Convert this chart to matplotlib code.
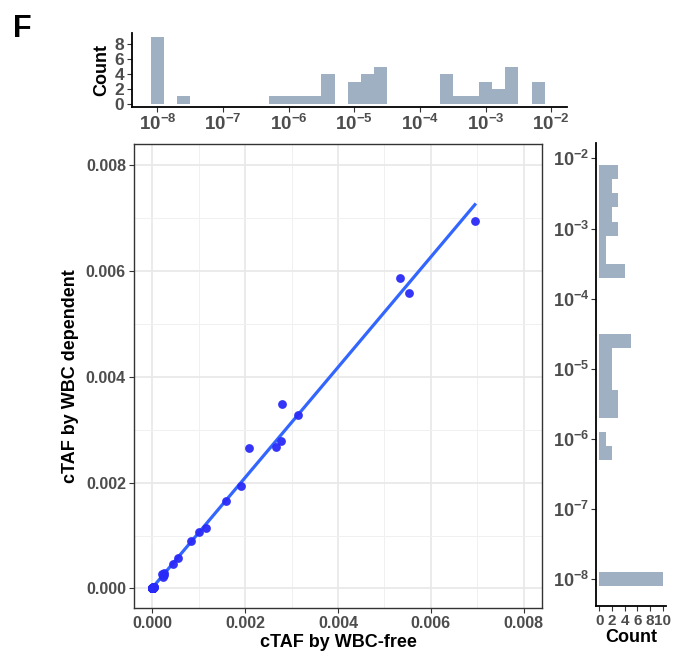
import numpy as np
import matplotlib
matplotlib.use("Agg")
import matplotlib.pyplot as plt

plt.rcParams['font.family'] = ['Liberation Sans', 'DejaVu Sans']
plt.rcParams['mathtext.fontset'] = 'custom'
plt.rcParams['mathtext.rm'] = 'Liberation Sans'
plt.rcParams['mathtext.bf'] = 'Liberation Sans:bold'
plt.rcParams['mathtext.it'] = 'Liberation Sans:italic'

# cTAF values (x: WBC-free, y: WBC dependent)
wbc_free = [
    0.00695, 0.00534, 0.00552, 0.00279, 0.00314, 0.00209, 0.00277, 0.00267,
    0.00191, 0.00159, 0.00116, 0.00101, 0.00083, 0.00055, 0.00045, 0.00026,
    0.00021, 0.00022, 0.00025,
    6.3e-7, 1.0e-6, 1.6e-6, 2.5e-6, 3.6e-6, 3.9e-6, 4.2e-6, 4.6e-6, 8.5e-6,
    1.0e-5, 1.2e-5, 1.35e-5, 1.5e-5, 1.7e-5, 1.9e-5, 2.1e-5, 2.3e-5, 2.5e-5,
    2.7e-5, 3.0e-5,
    0, 0, 0, 0, 0, 0, 0, 0, 0, 2.5e-8,
]
wbc_dependent = [
    0.00694, 0.00587, 0.00558, 0.00348, 0.00328, 0.00265, 0.00278, 0.00267,
    0.00194, 0.00165, 0.00115, 0.00107, 0.00089, 0.00058, 0.00046, 0.00030,
    0.00028, 0.00022, 0.00025,
    5.5e-7, 7.0e-7, 1.0e-6, 2.2e-6, 2.6e-6, 3.0e-6, 3.5e-6, 4.0e-6, 4.6e-6,
    5.6e-6, 7.0e-6, 9.0e-6, 1.1e-5, 1.4e-5, 1.8e-5, 2.1e-5, 2.3e-5, 2.6e-5,
    2.8e-5, 3.0e-5,
    0, 0, 0, 0, 0, 0, 0, 0, 0, 0,
]
main_ticks = [0.000, 0.002, 0.004, 0.006, 0.008]
main_tick_labels = ['0.000', '0.002', '0.004', '0.006', '0.008']
log_ticks = [-8, -7, -6, -5, -4, -3, -2]
count_ticks_top = [0, 2, 4, 6, 8]
count_ticks_right = [0, 2, 4, 6, 8, 10]

x = np.array(wbc_free, dtype=float)
y = np.array(wbc_dependent, dtype=float)
floor = 1e-8
lx = np.log10(np.maximum(x, floor))
ly = np.log10(np.maximum(y, floor))
bins = np.arange(-8.1, -1.85, 0.2)

W, H = 676, 652
fig = plt.figure(figsize=(W / 100, H / 100), dpi=100)

def rect(l, t, r, b):
    return [l / W, (H - b) / H, (r - l) / W, (b - t) / H]

tick_col = '#4d4d4d'
bar_col = '#9eb0c2'

# ---------- main scatter ----------
ax = fig.add_axes(rect(134.3, 144, 541.7, 608))
ax.set_xlim(-0.00039, 0.00839)
ax.set_ylim(-0.00037, 0.0084)
minor = [0.001, 0.003, 0.005, 0.007]
ax.set_xticks(minor, minor=True)
ax.set_yticks(minor, minor=True)
ax.grid(True, which='major', color='#e8e8e8', lw=1.2, zorder=0)
ax.grid(True, which='minor', color='#f0f0f0', lw=0.7, zorder=0)
ax.set_axisbelow(True)
ax.tick_params(which='minor', length=0)
ax.set_xticks(main_ticks)
ax.set_xticklabels(main_tick_labels)
ax.set_yticks(main_ticks)
ax.set_yticklabels(main_tick_labels)
ax.tick_params(which='major', length=3.5, width=0.8, color='#333333',
               labelsize=11.5, labelcolor=tick_col, pad=2.5)
for lab in ax.get_xticklabels() + ax.get_yticklabels():
    lab.set_fontweight('bold')
for s in ax.spines.values():
    s.set_color('#333333')
    s.set_linewidth(1.0)

coef = np.polyfit(x, y, 1)
xl = np.array([x.min(), x.max()])
ax.plot(xl, np.polyval(coef, xl), color='#3366ff', lw=2.3, zorder=2)
ax.scatter(x, y, s=40, color='#2a2af8', alpha=0.95, linewidths=0, zorder=3)

ax.set_xlabel('cTAF by WBC-free', fontsize=13, fontweight='bold', labelpad=2)
ax.set_ylabel('cTAF by WBC dependent', fontsize=13, fontweight='bold', labelpad=5)

log_labels = [r'$\mathbf{10^{%d}}$' % k for k in log_ticks]

# ---------- top histogram ----------
axt = fig.add_axes(rect(131.7, 33.3, 567, 107.3))
axt.hist(lx, bins=bins, color=bar_col, edgecolor='none', linewidth=0)
axt.set_xlim(-8.39, -1.76)
axt.set_ylim(-0.45, 9.45)
axt.set_xticks(log_ticks)
axt.set_xticklabels(log_labels)
axt.set_yticks(count_ticks_top)
axt.set_yticklabels([str(v) for v in count_ticks_top])
for s in ['top', 'right']:
    axt.spines[s].set_visible(False)
for s in ['left', 'bottom']:
    axt.spines[s].set_linewidth(1.3)
    axt.spines[s].set_color('black')
axt.tick_params(length=3.5, width=0.8, color='#333333', labelsize=12.5,
                labelcolor=tick_col, pad=2)
axt.tick_params(axis='x', labelsize=13.5, pad=1.5)
for lab in axt.get_yticklabels():
    lab.set_fontweight('bold')
axt.set_ylabel('Count', fontsize=13, fontweight='bold', labelpad=3)

# ---------- right histogram ----------
axr = fig.add_axes(rect(596, 143, 666, 606))
axr.hist(ly, bins=bins, orientation='horizontal', color=bar_col,
         edgecolor='none', linewidth=0)
axr.set_ylim(-8.385, -1.78)
axr.set_xlim(-0.5, 10.5)
axr.set_yticks(log_ticks)
axr.set_yticklabels(log_labels)
axr.set_xticks(count_ticks_right)
axr.set_xticklabels([str(v) for v in count_ticks_right])
for s in ['top', 'right']:
    axr.spines[s].set_visible(False)
for s in ['left', 'bottom']:
    axr.spines[s].set_linewidth(1.3)
    axr.spines[s].set_color('black')
axr.tick_params(length=3.5, width=0.8, color='#333333', labelsize=11,
                labelcolor=tick_col, pad=2)
axr.tick_params(axis='y', labelsize=13, pad=1.5)
for lab in axr.get_xticklabels():
    lab.set_fontweight('bold')
axr.set_xlabel('Count', fontsize=13, fontweight='bold', labelpad=1)

fig.text(13 / W, 1 - 37 / H, 'F', fontsize=22, fontweight='bold', ha='left', va='baseline')

fig.savefig('out.png', dpi=100)
